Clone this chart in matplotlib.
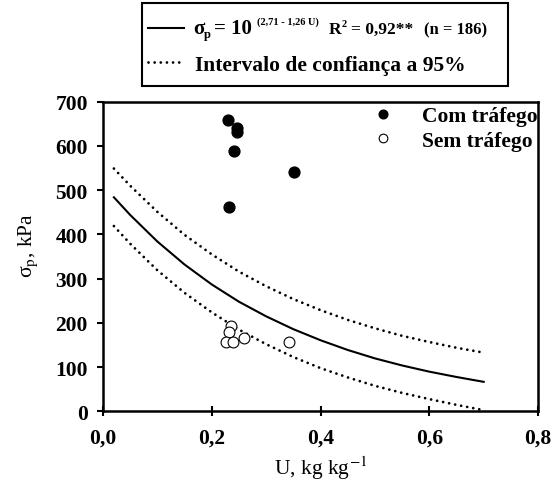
import matplotlib
matplotlib.use('Agg')
import matplotlib.pyplot as plt
from matplotlib.lines import Line2D
from matplotlib.patches import Rectangle

# dados
com_u = [0.229, 0.246, 0.246, 0.241, 0.351, 0.231]
com_sp = [659, 640, 631, 588, 542, 461]
sem_u = [0.236, 0.232, 0.226, 0.239, 0.259, 0.342]
sem_sp = [193, 179, 158, 157, 167, 158]

# curva ajustada e intervalo de confianca
u_curve = [0.02, 0.05, 0.10, 0.15, 0.20, 0.25, 0.30, 0.35, 0.40, 0.45, 0.50, 0.55, 0.60, 0.65, 0.70]
sp_fit = [484, 444, 384, 332, 287, 248, 215, 186, 161, 139, 120, 104, 90, 78, 67]
sp_upper = [549, 510, 451, 399, 355, 316, 283, 254, 229, 207, 188, 171, 157, 144, 133]
sp_lower = [419, 379, 319, 268, 224, 185, 152, 123, 98, 77, 58, 42, 28, 15, 3]

xticks = [0.0, 0.2, 0.4, 0.6, 0.8]
xticklabels = ['0,0', '0,2', '0,4', '0,6', '0,8']
yticks = [0, 100, 200, 300, 400, 500, 600, 700]

plt.rcParams['font.family'] = ['Liberation Serif', 'DejaVu Serif']

W, H = 557, 485
fig = plt.figure(figsize=(W / 100, H / 100), dpi=100)
ax = fig.add_axes([0.185, 0.1495, 0.781, 0.6387])

dotted = (0, (0.01, 2.2))
ax.plot(u_curve, sp_fit, color='black', lw=1.5)
ax.plot(u_curve, sp_upper, color='black', lw=2, ls=dotted, dash_capstyle='round')
ax.plot(u_curve, sp_lower, color='black', lw=2, ls=dotted, dash_capstyle='round')

ax.plot(com_u, com_sp, 'o', color='black', ms=7.8, ls='none', label='Com tráfego')
ax.plot(sem_u, sem_sp, 'o', mfc='white', mec='black', mew=0.8, ms=7.8, ls='none', label='Sem tráfego')

ax.set_xlim(0, 0.8)
ax.set_ylim(0, 700)
ax.set_xticks(xticks)
ax.set_xticklabels(xticklabels, fontweight='bold', fontsize=15.5)
ax.set_yticks(yticks)
ax.set_yticklabels([str(v) for v in yticks], fontweight='bold', fontsize=15.5)
ax.tick_params(axis='x', direction='inout', length=7, width=1.5, pad=8)
ax.tick_params(axis='y', direction='out', length=4, width=1.5, pad=7)
for s in ax.spines.values():
    s.set_linewidth(1.8)

ax.set_xlabel('U, kg kg$^{\\mathrm{-1}}$', fontsize=15.5, math_fontfamily='stix', labelpad=4)
ax.set_ylabel('σ$_\\mathrm{p}$, kPa', fontsize=15.5, math_fontfamily='stix')
ax.yaxis.set_label_coords(-0.146, 0.54)

ax.legend(loc='upper right', bbox_to_anchor=(1.0, 0.986), frameon=False,
          prop={'weight': 'bold', 'size': 15.5}, borderaxespad=0, borderpad=0,
          handletextpad=1.35, labelspacing=0.21, handlelength=1.0, markerscale=0.8)

# caixa da equacao (coordenadas em pixels)
def fx(px):
    return px / W

def fy(py):
    return 1 - py / H

fig.patches.append(Rectangle((fx(142), fy(87)), fx(508) - fx(142), fy(4) - fy(87),
                             transform=fig.transFigure, fill=False, lw=1.5, ec='black'))
fig.lines.append(Line2D([fx(148), fx(184)], [fy(29), fy(29)], transform=fig.transFigure,
                        color='black', lw=1.5))
fig.lines.append(Line2D([fx(148), fx(184)], [fy(63), fy(63)], transform=fig.transFigure,
                        color='black', lw=2, ls=dotted, dash_capstyle='round'))

fig.canvas.draw()
r = fig.canvas.get_renderer()
# (texto, tamanho, deslocamento vertical px, espaco antes px)
pieces = [('σ', 15, 0, 0), ('p', 9, 4, 0), ('= 10', 15, 0, 3),
          ('(2,71 - 1,26 U)', 7.5, -9, 5), ('R', 12.5, 0, 10), ('2', 7.5, -7, 0.5),
          ('= 0,92**', 12.5, 0, 4), ('(n = 186)', 12, 0, 10)]
x = 193
for txt, size, dy, gap in pieces:
    x += gap
    t = fig.text(fx(x), fy(34 + dy), txt, fontsize=size, fontweight='bold', va='baseline')
    x = t.get_window_extent(r).x1
fig.text(fx(195), fy(71), 'Intervalo de confiança a 95%', fontsize=15.5,
         fontweight='bold', va='baseline')

fig.savefig('out.png', dpi=100)
